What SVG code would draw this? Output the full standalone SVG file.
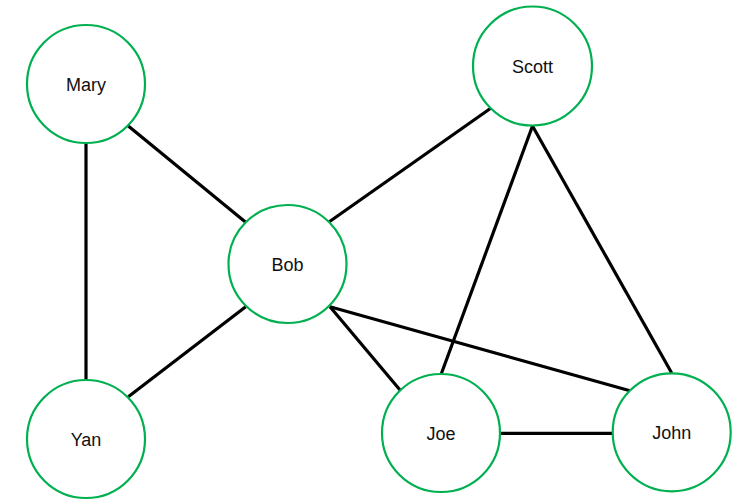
<svg xmlns="http://www.w3.org/2000/svg" width="744" height="500" viewBox="0 0 744 500">
  <style>
    .node circle { fill: #ffffff; stroke: #00b050; stroke-width: 2.2; }
    .node text { font-family: "Liberation Sans", Arial, sans-serif; font-size: 18px; fill: #111111; text-anchor: middle; }
    #edges line { stroke: #000000; stroke-width: 3.2; stroke-linecap: butt; }
  </style>
  <rect width="744" height="500" fill="#ffffff"/>
  <g id="edges">
    <line x1="86" y1="143" x2="86" y2="380"/>
    <line x1="128.3" y1="126" x2="245.7" y2="222.3"/>
    <line x1="245.7" y1="306.7" x2="128.3" y2="396.7"/>
    <line x1="329.3" y1="221.7" x2="490.7" y2="108.3"/>
    <line x1="330" y1="306.7" x2="400" y2="390"/>
    <line x1="330" y1="306.7" x2="630" y2="390.7"/>
    <line x1="532.5" y1="126" x2="441.5" y2="373.3"/>
    <line x1="532.5" y1="126" x2="671.7" y2="373"/>
    <line x1="500" y1="433.3" x2="612.3" y2="433.3"/>
  </g>
  <g id="mary" class="node">
    <circle cx="86" cy="84" r="59"/>
    <text x="86" y="90.5">Mary</text>
  </g>
  <g id="scott" class="node">
    <circle cx="532.5" cy="66" r="59.5"/>
    <text x="532.5" y="72.5">Scott</text>
  </g>
  <g id="bob" class="node">
    <circle cx="287.5" cy="264" r="59"/>
    <text x="287.5" y="270.5">Bob</text>
  </g>
  <g id="yan" class="node">
    <circle cx="86" cy="439" r="59"/>
    <text x="86" y="445.5">Yan</text>
  </g>
  <g id="joe" class="node">
    <circle cx="441" cy="433" r="59"/>
    <text x="441" y="439.5">Joe</text>
  </g>
  <g id="john" class="node">
    <circle cx="671.7" cy="432.3" r="59"/>
    <text x="671.7" y="438.8">John</text>
  </g>
</svg>
